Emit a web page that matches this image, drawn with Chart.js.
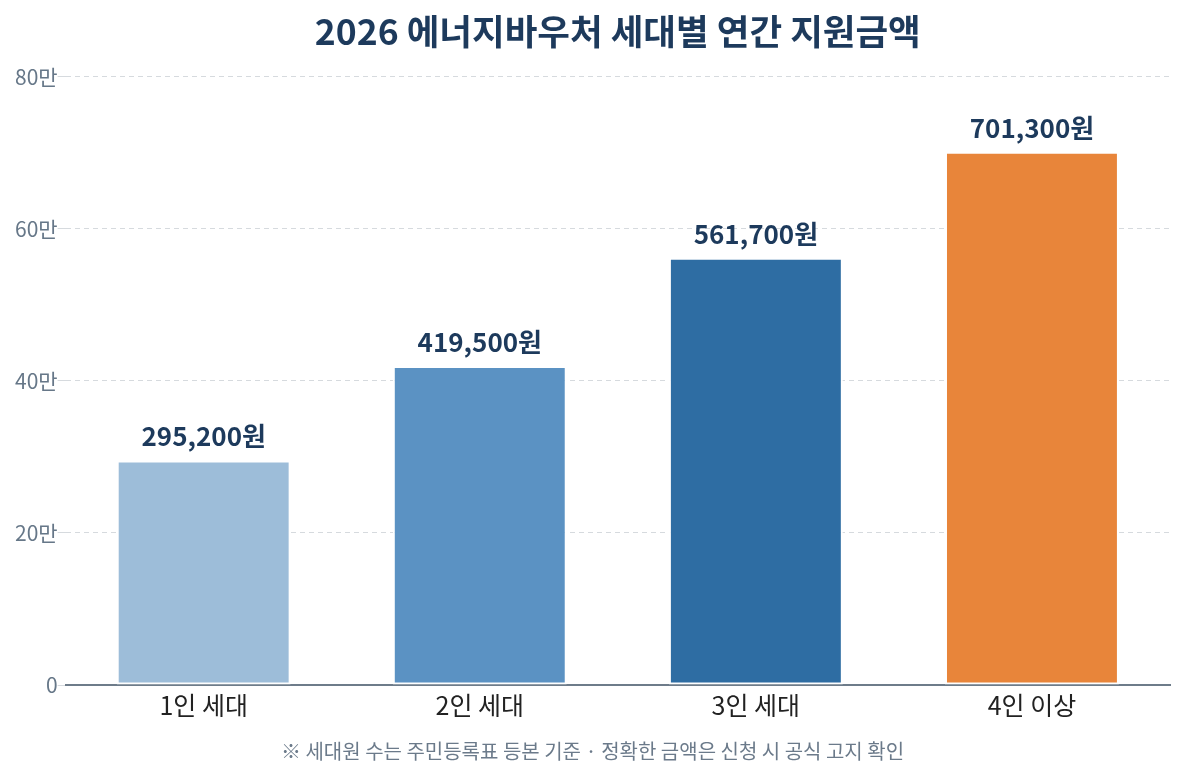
<!DOCTYPE html>
<html lang="ko">
<head>
<meta charset="utf-8">
<title>2026 에너지바우처 세대별 연간 지원금액</title>
<script src="https://cdn.jsdelivr.net/npm/chart.js@4.4.1/dist/chart.umd.min.js"></script>
<style>
    html, body { margin: 0; padding: 0; background: #ffffff; }
    #wrap { width: 1185px; height: 777px; }
</style>
</head>
<body>
<div id="wrap"><canvas id="voucherChart"></canvas></div>
<script>
// 세대별 지원금액 (원)
var categories = ['1인 세대', '2인 세대', '3인 세대', '4인 이상'];
var amounts = [295200, 419500, 561700, 701300];
var barColors = ['#9dbdd9', '#5b92c3', '#2e6da3', '#e8853a'];
var yTicks = [0, 200000, 400000, 600000, 800000];

var FONT = "'Noto Sans CJK KR', 'Noto Sans', sans-serif";

// 막대 위에 금액 표시
var valueLabels = {
    id: 'valueLabels',
    afterDatasetsDraw: function(chart) {
        var ctx = chart.ctx;
        var meta = chart.getDatasetMeta(0);
        ctx.save();
        ctx.font = 'bold 26px ' + FONT;
        ctx.fillStyle = '#1d3a5c';
        ctx.textAlign = 'center';
        ctx.textBaseline = 'bottom';
        meta.data.forEach(function(bar, i) {
            var text = amounts[i].toLocaleString('ko-KR') + '원';
            ctx.fillText(text, bar.x, bar.y - 11);
        });
        ctx.restore();
    }
};

// 제목을 플롯 영역 가운데에 맞춤
var titleOverPlot = {
    id: 'titleOverPlot',
    afterLayout: function(chart) {
        var t = chart.titleBlock;
        if (!t) return;
        var area = chart.chartArea;
        var shift = (area.left + area.right) / 2 - (t.left + t.right) / 2;
        t.left += shift;
        t.right += shift;
    }
};

var ctx = document.getElementById('voucherChart').getContext('2d');
var voucherChart = new Chart(ctx, {
    type: 'bar',
    data: {
        labels: categories,
        datasets: [{
            data: amounts,
            backgroundColor: barColors,
            borderColor: '#ffffff',
            borderWidth: 2,
            borderSkipped: false,
            categoryPercentage: 1.0,
            barPercentage: 0.63
        }]
    },
    options: {
        responsive: true,
        maintainAspectRatio: false,
        animation: false,
        layout: {
            padding: { left: 15, right: 15, top: 4, bottom: 14 }
        },
        plugins: {
            legend: { display: false },
            tooltip: { enabled: false },
            title: {
                display: true,
                text: '2026 에너지바우처 세대별 연간 지원금액',
                color: '#1d3a5c',
                font: { family: FONT, size: 35.5, weight: 'bold' },
                padding: { top: 6, bottom: 24 }
            },
            subtitle: {
                display: true,
                position: 'bottom',
                text: '※ 세대원 수는 주민등록표 등본 기준 · 정확한 금액은 신청 시 공식 고지 확인',
                color: '#6b7a8a',
                font: { family: FONT, size: 20 },
                padding: { top: 22, bottom: 0 }
            }
        },
        scales: {
            x: {
                grid: { display: false },
                border: { display: true, color: '#6e7c8a', width: 2 },
                ticks: {
                    color: '#222222',
                    font: { family: FONT, size: 25 },
                    padding: -3
                }
            },
            y: {
                min: 0,
                max: 800000,
                afterBuildTicks: function(axis) {
                    axis.ticks = yTicks.map(function(v) { return { value: v }; });
                },
                border: { display: false, dash: [5, 4] },
                grid: {
                    color: '#d6dade',
                    lineWidth: 1,
                    tickLength: 8,
                    drawTicks: true
                },
                ticks: {
                    color: '#667788',
                    font: { family: FONT, size: 21 },
                    padding: 0,
                    callback: function(value) {
                        return value === 0 ? '0' : (value / 10000) + '만';
                    }
                }
            }
        }
    },
    plugins: [valueLabels, titleOverPlot]
});
</script>
</body>
</html>
